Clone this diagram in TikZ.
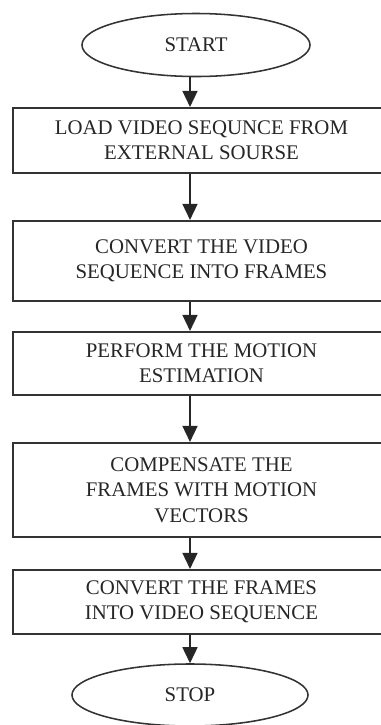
\documentclass[tikz,border=0pt]{standalone}
\usepackage{fontspec}
\setmainfont{Liberation Serif}
\usepackage{tikz}
\usetikzlibrary{shapes.geometric,arrows.meta}

\begin{document}
\begin{tikzpicture}[x=0.025cm,y=-0.025cm,
  stepbox/.style={rectangle,draw=black!80,line width=1.5pt,minimum width=9.425cm,align=center,text=black!85,font=\fontsize{14.8}{18}\selectfont},
  term/.style={ellipse,draw=black!80,line width=1.1pt,inner sep=0pt,text=black!85,font=\fontsize{14.8}{18}\selectfont},
  arr/.style={draw=black!85,line width=1.1pt,-{Triangle[width=0.375cm,length=0.4cm]}}]
\useasboundingbox (0,0) rectangle (381,725);
\node [term,minimum width=5.7cm,minimum height=1.575cm] (start) at (196,45) {START};
\node [term,minimum width=5.9cm,minimum height=1.55cm] (stop) at (190,695) {STOP};
  \foreach \lbl/\ypos/\hgt/\idx in {{LOAD VIDEO SEQUNCE FROM\\EXTERNAL SOURSE}/140.5/1.625/1,
    {CONVERT THE VIDEO\\SEQUENCE INTO FRAMES}/261/2.0/2,
    {PERFORM THE MOTION\\ESTIMATION}/363.5/1.575/3,
    {COMPENSATE THE\\FRAMES WITH MOTION\\VECTORS}/490/2.35/4,
    {CONVERT THE FRAMES\\INTO VIDEO SEQUENCE}/602/1.6/5}
  {  \node [stepbox,minimum height=\hgt cm] (b\idx) at (201.5,\ypos) {\lbl};}
\draw [arr] (start.south -| stop) -- (b1.north -| stop);
  \foreach \from/\to in {b1/b2,b2/b3,b3/b4,b4/b5}
  {  \draw [arr] (\from.south -| stop) -- (\to.north -| stop);}
\draw [arr] (b5.south -| stop) -- (stop.north);
\end{tikzpicture}
\end{document}
